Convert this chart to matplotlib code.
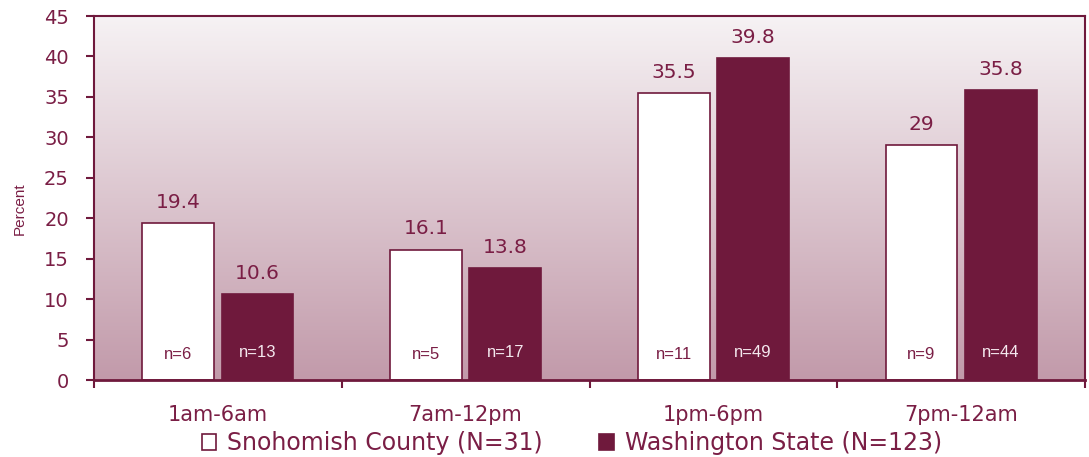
import matplotlib.pyplot as plt
import numpy as np
from matplotlib.colors import LinearSegmentedColormap

plt.rcParams['font.family'] = ['DejaVu Sans']

# data
categories = ['1am-6am', '7am-12pm', '1pm-6pm', '7pm-12am']
snohomish = [19.4, 16.1, 35.5, 29]
washington = [10.6, 13.8, 39.8, 35.8]
n_snohomish = [6, 5, 11, 9]
n_washington = [13, 17, 49, 44]
value_snoh = ['19.4', '16.1', '35.5', '29']
value_wash = ['10.6', '13.8', '39.8', '35.8']

maroon = '#6F193C'
txt = '#7A1E45'

fig = plt.figure(figsize=(10.89, 4.57), dpi=100)
ax = fig.add_axes([94 / 1089, 1 - 380 / 457, (1085 - 94) / 1089, (380 - 16) / 457])

# gradient background, light at top
cmap = LinearSegmentedColormap.from_list('bg', ['#F6F2F4', '#C29AAA'])
grad = np.linspace(0, 1, 256).reshape(-1, 1)
ax.imshow(grad, cmap=cmap, aspect='auto', extent=[-0.5, 3.5, 0, 45], zorder=0)

x = np.arange(len(categories))
w = 0.29
off = 0.16
b1 = ax.bar(x - off, snohomish, w, color='white', edgecolor=maroon, linewidth=1.2, zorder=2,
            label='Snohomish County (N=31)')
b2 = ax.bar(x + off, washington, w, color=maroon, edgecolor=maroon, linewidth=1.2, zorder=2,
            label='Washington State (N=123)')

for i in range(len(categories)):
    ax.text(x[i] - off, snohomish[i] + 1.4, value_snoh[i], ha='center', va='bottom',
            fontsize=14.5, color=txt)
    ax.text(x[i] + off, washington[i] + 1.4, value_wash[i], ha='center', va='bottom',
            fontsize=14.5, color=txt)
    ax.text(x[i] - off, 3.2, 'n=%d' % n_snohomish[i], ha='center', va='center',
            fontsize=12, color=txt, family='Liberation Sans')
    ax.text(x[i] + off, 3.4, 'n=%d' % n_washington[i], ha='center', va='center',
            fontsize=12, color='#F4E8EE', family='Liberation Sans')

ax.set_xlim(-0.5, 3.5)
ax.set_ylim(0, 45)
ax.set_yticks(np.arange(0, 46, 5))
ax.set_xticks(np.arange(-0.5, 3.6, 1))
ax.set_xticklabels([])
ax.set_xticks(x, minor=True)
ax.set_xticklabels(categories, minor=True, fontsize=15, color=txt)
ax.tick_params(axis='x', which='minor', length=0, pad=18)
ax.tick_params(axis='x', which='major', direction='out', length=6, color=maroon, width=1.5)
ax.tick_params(axis='y', direction='out', length=6, color=maroon, width=1.5,
               labelsize=14, labelcolor=txt, pad=12)
for s in ax.spines.values():
    s.set_color(maroon)
    s.set_linewidth(1.5)
ax.spines['bottom'].set_linewidth(2)

ax.set_ylabel('Percent', fontsize=11, color=txt, family='Liberation Sans')
ax.yaxis.set_label_coords(-0.068, 0.47)

ax.legend(loc='upper center', bbox_to_anchor=(0.482, -0.115), ncol=2, frameon=False,
          fontsize=17, labelcolor=txt, handlelength=0.62, handleheight=0.62,
          handletextpad=0.45, columnspacing=2.4, borderaxespad=0)

fig.savefig('out.png', dpi=100)
